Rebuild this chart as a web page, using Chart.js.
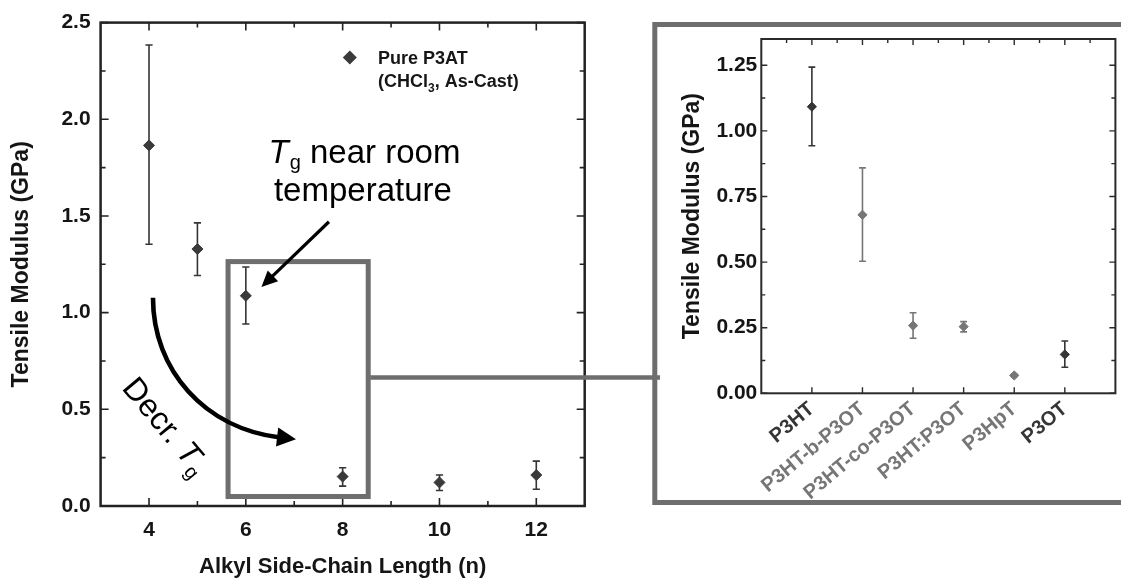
<!DOCTYPE html>
<html>
<head>
<meta charset="utf-8">
<title>Tensile modulus of P3ATs</title>
<script src="https://cdn.jsdelivr.net/npm/chart.js@4.4.1/dist/chart.umd.min.js"></script>
<style>
  html, body { margin: 0; padding: 0; background: #fff; }
  body { width: 1121px; height: 579px; position: relative; overflow: hidden; }
  #left { position: absolute; left: 0; top: 0; }
  #right { position: absolute; left: 645px; top: 0; }
</style>
</head>
<body>
<canvas id="left" width="660" height="579"></canvas>
<canvas id="right" width="476" height="579"></canvas>
<script>
// left panel: pure P3AT vs alkyl side-chain length
const chainLength = [4, 5, 6, 8, 10, 12];
const modulus   = [1.865, 1.329, 1.087, 0.152, 0.122, 0.160];
const modulusHi = [2.384, 1.464, 1.236, 0.198, 0.160, 0.232];
const modulusLo = [1.354, 1.192, 0.941, 0.103, 0.080, 0.087];
const xTicks = [4, 6, 8, 10, 12];
const yTicks = [0, 0.5, 1.0, 1.5, 2.0, 2.5];

// right panel: P3HT / P3OT blends and copolymers
const polymers = ['P3HT', 'P3HT-b-P3OT', 'P3HT-co-P3OT', 'P3HT:P3OT', 'P3HpT', 'P3OT'];
const blendModulus = [1.092, 0.680, 0.258, 0.254, 0.068, 0.148];
const blendHi = [1.243, 0.859, 0.307, 0.273, 0.073, 0.199];
const blendLo = [0.943, 0.503, 0.210, 0.234, 0.063, 0.099];
const blendTicks = [0, 0.25, 0.5, 0.75, 1.0, 1.25];

const DARK = '#353535';
const GREY = '#767676';
const BOX = '#6e6e6e';
const blendColors = [DARK, GREY, GREY, GREY, GREY, DARK];
const FONT = "'Liberation Sans', Arial, sans-serif";

Chart.defaults.font.family = FONT;
Chart.defaults.color = '#151515';

// axis box with inward ticks on all four sides
function drawBox(chart, o) {
    const {ctx, chartArea: a, scales: {x, y}} = chart;
    ctx.save();
    ctx.strokeStyle = o.color;
    ctx.lineWidth = o.tickWidth;
    ctx.beginPath();
    const xt = (vals, len, sides) => vals.forEach(v => {
        const p = x.getPixelForValue(v);
        if (sides.includes('b')) { ctx.moveTo(p, a.bottom); ctx.lineTo(p, a.bottom - len); }
        if (sides.includes('t')) { ctx.moveTo(p, a.top); ctx.lineTo(p, a.top + len); }
    });
    const yt = (vals, len) => vals.forEach(v => {
        const p = y.getPixelForValue(v);
        ctx.moveTo(a.left, p); ctx.lineTo(a.left + len, p);
        ctx.moveTo(a.right, p); ctx.lineTo(a.right - len, p);
    });
    xt(o.xMajor, o.major, 'bt');
    xt(o.xMinor, o.minor, o.minorSides);
    yt(o.yMajor, o.major);
    yt(o.yMinor, o.minor);
    ctx.stroke();
    ctx.lineWidth = o.width;
    ctx.strokeRect(a.left, a.top, a.right - a.left, a.bottom - a.top);
    ctx.restore();
}

function drawErrors(chart, hi, lo, colors, cap) {
    const {ctx, scales: {y}} = chart;
    const pts = chart.getDatasetMeta(0).data;
    ctx.save();
    ctx.lineWidth = 1.6;
    pts.forEach((p, i) => {
        const t = y.getPixelForValue(hi[i]);
        const b = y.getPixelForValue(lo[i]);
        ctx.strokeStyle = colors[i];
        ctx.beginPath();
        ctx.moveTo(p.x, t); ctx.lineTo(p.x, b);
        ctx.moveTo(p.x - cap, t); ctx.lineTo(p.x + cap, t);
        ctx.moveTo(p.x - cap, b); ctx.lineTo(p.x + cap, b);
        ctx.stroke();
    });
    ctx.restore();
}

function arrowHead(ctx, tip, from, len, half) {
    const dx = tip.x - from.x, dy = tip.y - from.y;
    const d = Math.hypot(dx, dy), ux = dx / d, uy = dy / d;
    const bx = tip.x - ux * len, by = tip.y - uy * len;
    ctx.beginPath();
    ctx.moveTo(tip.x, tip.y);
    ctx.lineTo(bx - uy * half, by + ux * half);
    ctx.lineTo(bx + uy * half, by - ux * half);
    ctx.closePath();
    ctx.fill();
    return {x: bx + ux * 2, y: by + uy * 2};
}

// italic T with subscript g; returns end x (measure only if draw is false)
function drawTg(ctx, x, y, size, draw = true) {
    const sub = Math.round(size * 0.62);
    ctx.font = 'italic ' + size + 'px ' + FONT;
    if (draw) ctx.fillText('T', x, y);
    x += ctx.measureText('T').width;
    ctx.font = sub + 'px ' + FONT;
    if (draw) ctx.fillText('g', x + 1, y + size * 0.2);
    return x + 1 + ctx.measureText('g').width;
}

// annotations in data units of the left panel
const zoomRect = {x0: 5.633, x1: 8.528, y0: 0.049, y1: 1.264};
const linkY = 0.665;

const leftDecor = {
    id: 'leftDecor',
    beforeDatasetsDraw(chart) {
        drawBox(chart, {
            color: '#222', width: 2.5, tickWidth: 1.6, major: 8, minor: 5, minorSides: 'bt',
            xMajor: xTicks, xMinor: [5, 7, 9, 11],
            yMajor: yTicks, yMinor: [0.25, 0.75, 1.25, 1.75, 2.25]
        });
        drawErrors(chart, modulusHi, modulusLo, chainLength.map(() => DARK), 3.6);
    },
    afterDatasetsDraw(chart) {
        const {ctx, scales: {x, y}} = chart;
        const P = (a, b) => ({x: x.getPixelForValue(a), y: y.getPixelForValue(b)});
        ctx.save();

        // zoom box and link to the inset frame
        const r0 = P(zoomRect.x0, zoomRect.y1), r1 = P(zoomRect.x1, zoomRect.y0);
        ctx.strokeStyle = BOX;
        ctx.lineWidth = 5;
        ctx.strokeRect(r0.x, r0.y, r1.x - r0.x, r1.y - r0.y);
        const ly = y.getPixelForValue(linkY);
        ctx.lineWidth = 4.5;
        ctx.beginPath();
        ctx.moveTo(r1.x + 2, ly);
        ctx.lineTo(chart.width, ly);
        ctx.stroke();

        // legend
        ctx.fillStyle = '#3a3a3a';
        const lg = P(8.148, 2.320);
        ctx.beginPath();
        ctx.moveTo(lg.x - 7, lg.y); ctx.lineTo(lg.x, lg.y - 7);
        ctx.lineTo(lg.x + 7, lg.y); ctx.lineTo(lg.x, lg.y + 7);
        ctx.closePath(); ctx.fill();
        ctx.fillStyle = '#161616';
        ctx.textBaseline = 'alphabetic';
        ctx.textAlign = 'left';
        const t1 = P(8.731, 2.287), t2 = P(8.731, 2.165);
        ctx.font = 'bold 18px ' + FONT;
        ctx.fillText('Pure P3AT', t1.x, t1.y);
        let cx = t2.x;
        ctx.fillText('(CHCl', cx, t2.y);
        cx += ctx.measureText('(CHCl').width;
        ctx.font = 'bold 12px ' + FONT;
        ctx.fillText('3', cx, t2.y + 5);
        cx += ctx.measureText('3').width;
        ctx.font = 'bold 18px ' + FONT;
        ctx.fillText(', As-Cast)', cx, t2.y);

        // "Tg near room temperature"
        ctx.fillStyle = '#000';
        const size = 33;
        const rest = ' near room';
        let w = drawTg(ctx, 0, 0, size, false);
        ctx.font = size + 'px ' + FONT;
        w += ctx.measureText(rest).width;
        const c1 = P(8.451, 1.775), c2 = P(8.418, 1.577);
        const ex = drawTg(ctx, c1.x - w / 2, c1.y, size);
        ctx.font = size + 'px ' + FONT;
        ctx.fillText(rest, ex, c1.y);
        ctx.textAlign = 'center';
        ctx.fillText('temperature', c2.x, c2.y);

        // straight arrow to the P3HT point
        ctx.strokeStyle = '#000';
        ctx.fillStyle = '#000';
        const a0 = P(7.717, 1.470), a1 = P(6.322, 1.133);
        const sEnd = arrowHead(ctx, a1, a0, 16, 7.5);
        ctx.lineWidth = 3.2;
        ctx.beginPath();
        ctx.moveTo(a0.x, a0.y);
        ctx.lineTo(sEnd.x, sEnd.y);
        ctx.stroke();

        // curved arrow: decreasing Tg
        const q0 = P(4.082, 1.077), q1 = P(4.082, 0.701), q2 = P(5.157, 0.402), q3 = P(6.665, 0.356);
        const tip = P(7.036, 0.345);
        arrowHead(ctx, tip, q3, 19, 9.5);
        ctx.lineWidth = 4.6;
        ctx.beginPath();
        ctx.moveTo(q0.x, q0.y);
        ctx.bezierCurveTo(q1.x, q1.y, q2.x, q2.y, q3.x + 2, q3.y + 0.3);
        ctx.stroke();

        // rotated "Decr. Tg"
        const d0 = P(3.421, 0.608);
        ctx.translate(d0.x, d0.y);
        ctx.rotate(50 * Math.PI / 180);
        ctx.textAlign = 'left';
        ctx.font = '32px ' + FONT;
        ctx.fillText('Decr. ', 0, 0);
        drawTg(ctx, ctx.measureText('Decr. ').width, 0, 32);
        ctx.restore();
    }
};

new Chart(document.getElementById('left'), {
    type: 'scatter',
    data: {
        datasets: [{
            data: chainLength.map((n, i) => ({x: n, y: modulus[i]})),
            pointStyle: 'rectRot',
            pointRadius: 5.5,
            pointBackgroundColor: '#3a3a3a',
            pointBorderColor: '#3a3a3a',
            pointBorderWidth: 1,
            showLine: false
        }]
    },
    options: {
        responsive: false,
        animation: false,
        layout: {padding: {top: 21.5, right: 75.3, left: 0, bottom: 0}},
        plugins: {legend: {display: false}, tooltip: {enabled: false}},
        scales: {
            x: {
                type: 'linear', min: 3, max: 13,
                afterBuildTicks: s => { s.ticks = xTicks.map(v => ({value: v})); },
                afterFit: s => { s.height = 73; },
                grid: {display: false, drawTicks: false},
                border: {display: false},
                ticks: {padding: 12, font: {size: 21, weight: 'bold'}, maxRotation: 0},
                title: {display: true, text: 'Alkyl Side-Chain Length (n)',
                        font: {size: 22, weight: 'bold', lineHeight: 1}, padding: {top: 0, bottom: 1}}
            },
            y: {
                min: 0, max: 2.5,
                afterBuildTicks: s => { s.ticks = yTicks.map(v => ({value: v})); },
                afterFit: s => { s.width = 100.6; },
                grid: {display: false, drawTicks: false},
                border: {display: false},
                ticks: {padding: 10, font: {size: 21, weight: 'bold'}, callback: v => v.toFixed(1)},
                title: {display: true, text: 'Tensile Modulus (GPa)',
                        font: {size: 23, weight: 'bold', lineHeight: 1.2}, padding: {top: 8, bottom: 0}}
            }
        }
    },
    plugins: [leftDecor]
});

// inset frame, in page pixels
const frame = {left: 654.8, top: 24.5, bottom: 502.5, canvasLeft: 645};

const rightDecor = {
    id: 'rightDecor',
    beforeDatasetsDraw(chart) {
        const {ctx} = chart;
        ctx.save();
        ctx.strokeStyle = BOX;
        ctx.lineWidth = 5;
        const fx = frame.left - frame.canvasLeft;
        ctx.strokeRect(fx, frame.top, chart.width + 20, frame.bottom - frame.top);
        ctx.restore();
        drawBox(chart, {
            color: '#2a2a2a', width: 2, tickWidth: 1.4, major: 6, minor: 4, minorSides: 't',
            xMajor: [0, 1, 2, 3, 4, 5], xMinor: [-0.5, 0.5, 1.5, 2.5, 3.5, 4.5, 5.5],
            yMajor: blendTicks, yMinor: [0.125, 0.375, 0.625, 0.875, 1.125]
        });
        drawErrors(chart, blendHi, blendLo, blendColors, 3.4);
    }
};

new Chart(document.getElementById('right'), {
    type: 'scatter',
    data: {
        datasets: [{
            data: polymers.map((p, i) => ({x: i, y: blendModulus[i]})),
            pointStyle: 'rectRot',
            pointRadius: 4.6,
            pointBackgroundColor: blendColors,
            pointBorderColor: blendColors,
            pointBorderWidth: 1,
            showLine: false
        }]
    },
    options: {
        responsive: false,
        animation: false,
        layout: {padding: {top: 39, right: 5, left: 0, bottom: 0}},
        plugins: {legend: {display: false}, tooltip: {enabled: false}},
        scales: {
            x: {
                type: 'linear', min: -1, max: 6,
                afterBuildTicks: s => { s.ticks = polymers.map((p, i) => ({value: i})); },
                afterFit: s => { s.height = 579 - 393.3; },
                grid: {display: false, drawTicks: false},
                border: {display: false},
                ticks: {
                    padding: 4, autoSkip: false, minRotation: 40, maxRotation: 40,
                    font: {size: 20, weight: 'bold'},
                    color: c => blendColors[c.index],
                    callback: v => polymers[v]
                }
            },
            y: {
                min: 0, max: 1.35,
                afterBuildTicks: s => { s.ticks = blendTicks.map(v => ({value: v})); },
                afterFit: s => { s.width = 116.3; },
                grid: {display: false, drawTicks: false},
                border: {display: false},
                ticks: {padding: 4, font: {size: 21, weight: 'bold'}, callback: v => v.toFixed(2)},
                title: {display: true, text: 'Tensile Modulus (GPa)',
                        font: {size: 23, weight: 'bold', lineHeight: 1.2}, padding: {top: 33.7, bottom: 0}}
            }
        }
    },
    plugins: [rightDecor]
});
</script>
</body>
</html>
